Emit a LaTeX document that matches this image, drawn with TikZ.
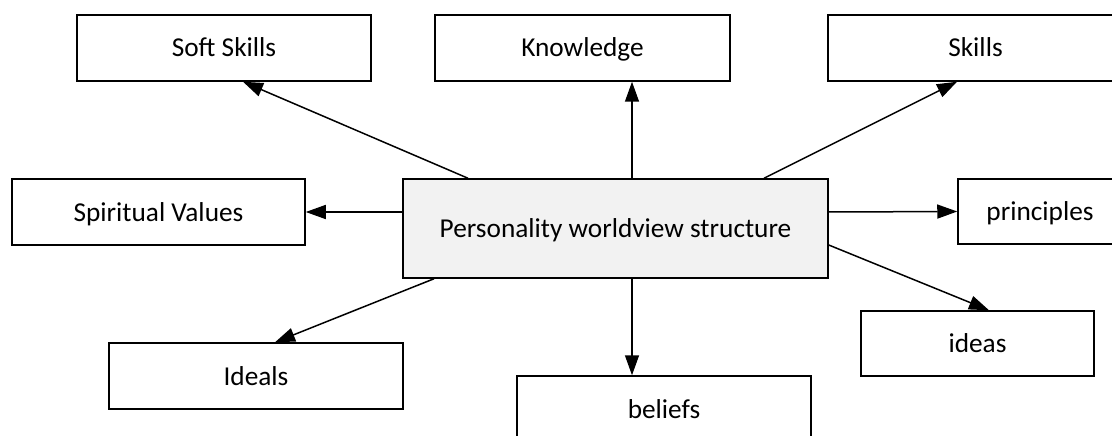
\documentclass[tikz,border=0pt]{standalone}
\usepackage{fontspec}
\setmainfont{Carlito}
\usetikzlibrary{arrows.meta,calc,positioning}
\definecolor{hub}{HTML}{F2F2F2}

\begin{document}
\begin{tikzpicture}[x=1pt,y=-1pt,
 box/.style={draw=black,line width=1.5pt,fill=white,align=center,
 minimum width=294pt,minimum height=66pt,inner sep=0pt,
 text height=18pt,text depth=0pt,
 font=\fontsize{27.3}{32}\selectfont},
 arr/.style={-{Triangle[length=20pt,width=14pt]},draw=black,line width=1.5pt}]
\clip (0,0) rectangle (1112,436);
\node[box,fill=hub,minimum width=425pt,minimum height=99pt] (struct)
 at (615.5,228.5) {Personality worldview structure};
\node[box] (soft) at (224,48) {Soft Skills};
\node[box,minimum width=295pt] (know) at (582.5,48) {Knowledge};
\node[box,minimum width=295pt] (skills) at (975.5,48) {Skills};
\node[box,minimum width=293pt] (spirit) at (158.5,212) {Spiritual Values};
\node[box,minimum width=164pt,minimum height=65pt] (princ)
 at (1040,211.5) {principles};
\node[box,minimum width=233pt,minimum height=65pt] (ideas)
 at (977.5,343.5) {ideas};
\node[box] (ideals) at (256,376) {Ideals};
\node[box] (beliefs) at (664,409) {beliefs};
% connectors from the hub
\draw[arr] ([xshift=-147.5pt]struct.north)--([xshift=19pt]soft.south);
\draw[arr] ([xshift=16.5pt]struct.north)--([xshift=49.5pt]know.south);
\draw[arr] ([xshift=148.5pt]struct.north)--([xshift=-18.5pt]skills.south);
\draw[arr] ([yshift=16.5pt]struct.west)--(spirit.east);
\draw[arr] ([yshift=16.5pt]struct.east)--(princ.west);
\draw[arr] ([yshift=-16.5pt]struct.east)--([xshift=11.5pt]ideas.north);
\draw[arr] ([xshift=16.5pt]struct.south)--([xshift=-32pt]beliefs.north);
\draw[arr] ([xshift=-181.5pt]struct.south)--([xshift=19pt]ideals.north);
\end{tikzpicture}
\end{document}
